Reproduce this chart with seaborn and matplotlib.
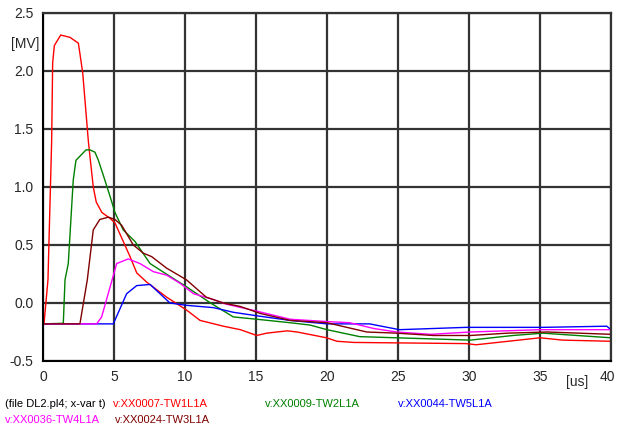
import matplotlib
matplotlib.use("Agg")
import matplotlib.pyplot as plt
import matplotlib.transforms as mtransforms
import seaborn as sns
import pandas as pd

# ---- data ----
t_tw1 = [0.0, 0.07, 0.35, 0.61, 0.68, 0.8, 1.25, 1.9, 2.49, 2.6, 2.8, 3.19, 3.31, 3.54, 3.75, 4.15,
         4.72, 5.07, 6.13, 6.6, 7.3, 8.71, 10.1, 11.06, 12.7, 13.9, 15.05, 15.75, 17.2, 17.9, 19.97,
         20.7, 21.9, 29.8, 30.5, 35.0, 36.6, 40.0]
v_tw1 = [-0.18, -0.18, 0.2, 1.4, 2.07, 2.22, 2.31, 2.29, 2.24, 2.15, 1.98, 1.4, 1.26, 1.0, 0.87, 0.78,
         0.73, 0.69, 0.40, 0.26, 0.18, 0.05, -0.06, -0.15, -0.20, -0.23, -0.28, -0.26, -0.24, -0.25, -0.30,
         -0.33, -0.34, -0.35, -0.36, -0.30, -0.32, -0.33]

t_tw2 = [0.0, 1.43, 1.55, 1.78, 2.13, 2.32, 3.03, 3.31, 3.66, 3.9, 4.25, 4.72, 5.07, 5.65, 6.48, 7.54,
         8.94, 10.1, 11.8, 13.4, 15.05, 17.4, 18.8, 20.0, 22.3, 24.9, 30.1, 33.1, 35.2, 40.0]
v_tw2 = [-0.18, -0.175, 0.2, 0.34, 1.06, 1.23, 1.32, 1.32, 1.30, 1.23, 1.10, 0.92, 0.78, 0.63, 0.53, 0.34,
         0.23, 0.14, 0.0, -0.12, -0.14, -0.17, -0.19, -0.23, -0.29, -0.30, -0.32, -0.28, -0.26, -0.30]

t_tw5 = [0.0, 4.95, 5.89, 6.6, 7.54, 8.24, 8.94, 10.1, 12.0, 13.4, 15.05, 17.4, 20.0, 23.0, 25.1,
         29.8, 35.2, 39.7, 40.0]
v_tw5 = [-0.18, -0.18, 0.08, 0.15, 0.16, 0.08, 0.0, -0.02, -0.04, -0.08, -0.11, -0.15, -0.18, -0.18, -0.23,
         -0.21, -0.21, -0.20, -0.23]

t_tw4 = [0.0, 3.78, 4.13, 5.19, 6.0, 6.83, 7.77, 8.71, 9.65, 10.6, 12.0, 12.9, 15.05, 17.4, 20.0, 21.6,
         23.3, 24.9, 27.3, 30.1, 35.0, 40.0]
v_tw4 = [-0.18, -0.18, -0.12, 0.34, 0.38, 0.34, 0.27, 0.24, 0.17, 0.08, 0.03, -0.01, -0.07, -0.14, -0.16, -0.17,
         -0.22, -0.25, -0.27, -0.25, -0.23, -0.23]

t_tw3 = [0.0, 2.6, 3.12, 3.54, 4.0, 4.6, 5.07, 5.54, 6.36, 7.06, 7.65, 8.71, 10.1, 11.5, 12.7, 13.9,
         15.3, 17.4, 20.0, 22.8, 24.9, 27.5, 30.1, 32.7, 35.5, 40.0]
v_tw3 = [-0.18, -0.18, 0.2, 0.63, 0.72, 0.74, 0.72, 0.67, 0.50, 0.43, 0.40, 0.30, 0.20, 0.05, 0.0, -0.03,
         -0.09, -0.15, -0.17, -0.25, -0.26, -0.28, -0.28, -0.26, -0.25, -0.27]

labels = ["v:XX0007-TW1L1A", "v:XX0009-TW2L1A", "v:XX0044-TW5L1A",
          "v:XX0036-TW4L1A", "v:XX0024-TW3L1A"]
colors = ["#ff0000", "#008000", "#0000ff", "#ff00ff", "#800000"]
x_ticks = [0, 5, 10, 15, 20, 25, 30, 35, 40]
y_ticks = [-0.5, 0.0, 0.5, 1.0, 1.5, 2.0, 2.5]

series = [(t_tw1, v_tw1), (t_tw2, v_tw2), (t_tw5, v_tw5), (t_tw4, v_tw4), (t_tw3, v_tw3)]

sns.set_style("white")
plt.rcParams["font.family"] = ["Liberation Sans", "DejaVu Sans"]

fig = plt.figure(figsize=(6.17, 4.30), dpi=100)
ax = fig.add_axes([43 / 617, 1 - 361 / 430, (611 - 43) / 617, (361 - 13) / 430])

for (t, v), lab, c in zip(series, labels, colors):
    df = pd.DataFrame({"t": t, "v": v})
    sns.lineplot(data=df, x="t", y="v", ax=ax, color=c, linewidth=1.0, sort=False,
                 estimator=None, legend=False)

ax.set_xlim(0, 40)
ax.set_ylim(-0.5, 2.5)
ax.set_xticks(x_ticks)
ax.set_yticks(y_ticks)
ax.set_xticklabels([str(x) for x in x_ticks], fontsize=10)
ax.set_yticklabels([f"{y:.1f}" for y in y_ticks], fontsize=10)
ax.set_xlabel("")
ax.set_ylabel("")
ax.grid(True, color="#333333", linewidth=1.6, linestyle="-")
ax.set_axisbelow(True)
ax.tick_params(axis="y", direction="out", length=6, width=1.2, color="black", pad=1)
ax.tick_params(axis="x", direction="out", length=3.6, width=1.2, color="black", pad=3)
for s in ["left", "bottom"]:
    ax.spines[s].set_color("black")
    ax.spines[s].set_linewidth(1.5)
for s in ["top", "right"]:
    ax.spines[s].set_color("#333333")
    ax.spines[s].set_linewidth(1.6)

# shift the last x tick label slightly left so it stays inside the figure
last = ax.get_xticklabels()[-1]
last.set_transform(last.get_transform() + mtransforms.ScaledTranslation(-4 / 100, 0, fig.dpi_scale_trans))

# unit labels
fig.text(577 / 617, 1 - 382 / 430, "[us]", fontsize=10, ha="center", va="center")
fig.text(25 / 617, 1 - 44 / 430, "[MV]", fontsize=10, ha="center", va="center")

# legend-like captions
row1 = 1 - 404 / 430
row2 = 1 - 420 / 430
fig.text(5 / 617, row1, "(file DL2.pl4; x-var t)", fontsize=8, color="black", va="center")
fig.text(113 / 617, row1, labels[0], fontsize=8, color=colors[0], va="center")
fig.text(265 / 617, row1, labels[1], fontsize=8, color=colors[1], va="center")
fig.text(398 / 617, row1, labels[2], fontsize=8, color=colors[2], va="center")
fig.text(5 / 617, row2, labels[3], fontsize=8, color=colors[3], va="center")
fig.text(115 / 617, row2, labels[4], fontsize=8, color=colors[4], va="center")

fig.savefig("out.png", dpi=100)
